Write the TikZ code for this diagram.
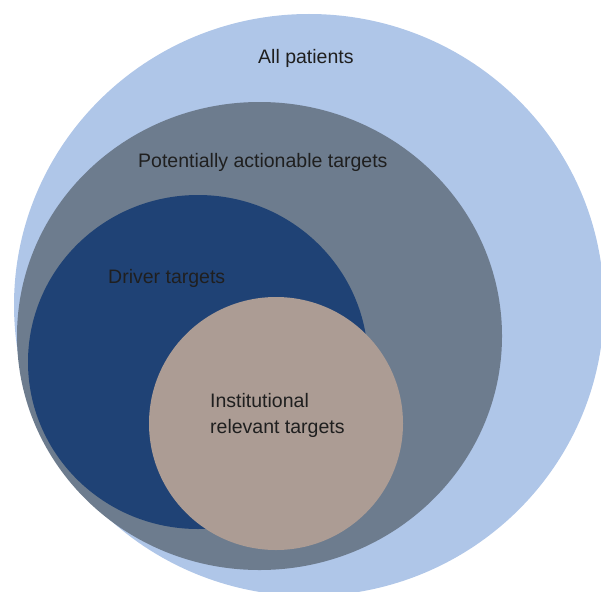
\documentclass[tikz,border=0pt]{standalone}
\usepackage{fontspec}
\setmainfont{Liberation Sans}

\definecolor{patientblue}{RGB}{175,198,232}
\definecolor{actiongrey}{RGB}{109,124,142}
\definecolor{driverblue}{RGB}{31,66,117}
\definecolor{instbeige}{RGB}{172,156,148}

\begin{document}
\begin{tikzpicture}[x=1pt,y=-1pt,every node/.style={font=\fontsize{19.5}{26}\selectfont,text=black!88,inner sep=0pt,anchor=base west}]
  \clip (0,0) rectangle (601,591);
  % nested sets, outermost first
  \fill[patientblue] (309,305) ellipse [x radius=295,y radius=291];
  \fill[actiongrey] (259.5,336) ellipse [x radius=242.5,y radius=234];
  \fill[driverblue] (198,362) ellipse [x radius=170,y radius=167];
  \fill[instbeige] (276,423.5) ellipse [x radius=127,y radius=126.5];
  % labels (base of a two-line node is its last line)
  \path (258,64) node (all) {All patients}
  (138,167) node (pat) {Potentially actionable targets}
  (108,283) node (drv) {Driver targets}
  (210,433) node[align=left] (irt) {Institutional\\relevant targets};
\end{tikzpicture}
\end{document}
